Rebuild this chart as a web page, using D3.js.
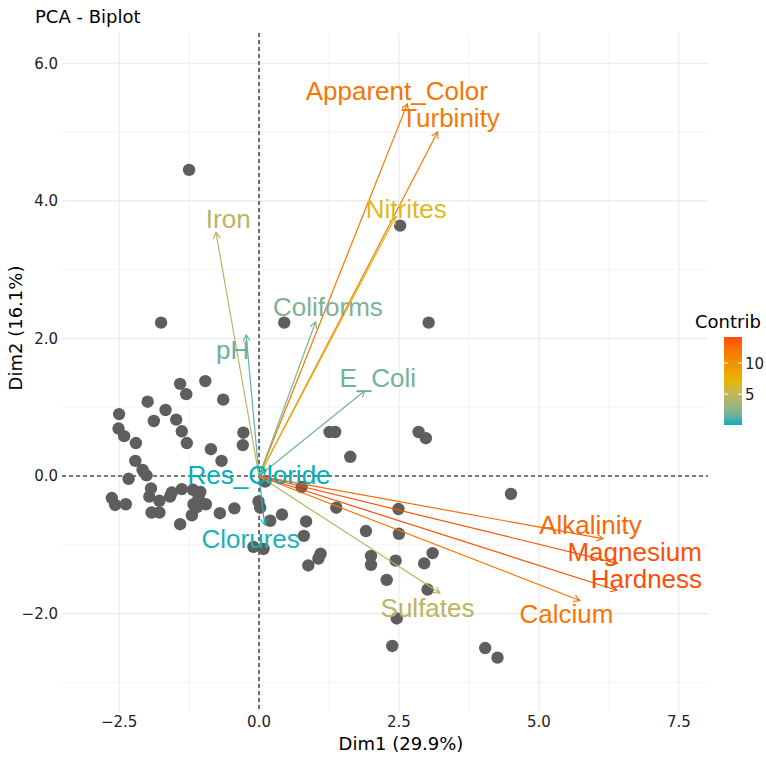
<!DOCTYPE html>
<html>
<head>
<meta charset="utf-8">
<script src="https://cdn.jsdelivr.net/npm/d3@7"></script>
<style>
  body { margin: 0; background: #fff; }
  svg { display: block; }
</style>
</head>
<body>
<div id="chart"></div>
<script>
// Individuals (Dim1, Dim2)
const indDim1 = [-1.41, -0.96, -1.30, -1.99, -0.64, -2.50, -1.67, -1.48, -1.88, -2.51,
  -2.41, -1.38, -2.20, -1.29, -0.28, -0.29, -0.86, -0.67, -2.21, -2.08,
  -2.01, -2.33, -1.93, -2.63, -2.57, -2.38, -1.96, -1.78, -1.59, -1.56,
  -1.38, -1.18, -1.05, -1.08, -1.17, -0.95, -1.11, -1.92, -1.78, -1.20,
  -1.41, -0.70, -0.44, 0.11, -0.01, 0.02, 0.20, 0.41, -0.10, 0.08,
  0.76, 0.84, 0.80, 1.38, 1.26, 1.36, 1.63, 1.10, 1.06, 0.88,
  1.91, 2.00, 2.00, 2.28, 2.49, 2.50, 2.44, 2.46, 2.38, 2.85,
  2.98, 3.10, 2.95, 3.01, 4.50, 4.04, 4.26, -1.25, -1.75, 0.45,
  2.52, 3.03];
const indDim2 = [1.34, 1.38, 1.19, 1.08, 1.11, 0.90, 0.96, 0.82, 0.80, 0.69,
  0.58, 0.65, 0.48, 0.48, 0.63, 0.45, 0.39, 0.22, 0.22, 0.09,
  0.01, -0.04, -0.18, -0.32, -0.42, -0.41, -0.30, -0.36, -0.30, -0.24,
  -0.19, -0.20, -0.23, -0.32, -0.41, -0.41, -0.45, -0.53, -0.53, -0.57,
  -0.70, -0.54, -0.47, -0.08, -0.37, -0.46, -0.65, -0.56, -1.03, -1.06,
  -0.16, -0.66, -0.87, -0.46, 0.64, 0.64, 0.28, -1.13, -1.20, -1.30,
  -0.80, -1.16, -1.29, -1.51, -0.48, -0.84, -1.23, -2.07, -2.47, 0.64,
  0.55, -1.12, -1.27, -1.65, -0.26, -2.50, -2.64, 4.45, 2.23, 2.23,
  3.64, 2.23];

// Variables
const variables = ["Apparent_Color", "Turbinity", "Nitrites", "Iron", "Coliforms", "pH", "E_Coli",
  "Res_Cloride", "Clorures", "Sulfates", "Alkalinity", "Magnesium", "Hardness", "Calcium"];
const varDim1 = [2.65, 3.19, 2.43, -0.77, 1.01, -0.23, 1.89, 0.12, 0.10, 3.23, 6.14, 6.40, 6.39, 5.73];
const varDim2 = [5.41, 5.00, 3.75, 3.54, 2.24, 2.05, 1.24, 0.08, -0.71, -1.70, -0.91, -1.27, -1.66, -1.81];
const varContrib = [12.1, 11.7, 6.8, 4.5, 2.1, 1.4, 1.7, 0.05, 0.2, 4.5, 12.7, 14.0, 14.2, 12.0];
// label positions (repelled), in Dim1/Dim2 units
const labelDim1 = [2.46, 3.42, 2.63, -0.55, 1.23, -0.47, 2.12, 0.00, -0.15, 3.01, 5.92, 6.71, 6.92, 5.49];
const labelDim2 = [5.60, 5.20, 3.88, 3.74, 2.46, 1.83, 1.43, 0.01, -0.91, -1.91, -0.71, -1.11, -1.50, -2.01];

// Axes
const xTicks = [-2.5, 0, 2.5, 5, 7.5];
const yTicks = [-2, 0, 2, 4, 6];
const xMinor = [-1.25, 1.25, 3.75, 6.25];
const yMinor = [-3, -1, 1, 3, 5];
const legendTicks = [5, 10];
const gradientCols = ["#00AFBB", "#E7B800", "#FC4E07"];

const width = 766, height = 757;
const panel = { left: 62, right: 708, top: 33, bottom: 712 };

const svg = d3.select("#chart").append("svg")
  .attr("width", width)
  .attr("height", height);

const x = d3.scaleLinear().domain([-3.52, 8.02]).range([panel.left, panel.right]);
const y = d3.scaleLinear().domain([-3.43, 6.44]).range([panel.bottom, panel.top]);

const cMin = d3.min(varContrib), cMax = d3.max(varContrib);
const color = d3.scaleLinear()
  .domain([cMin, (cMin + cMax) / 2, cMax])
  .range(gradientCols)
  .interpolate(d3.interpolateLab);

// grid: minor then major
const grid = svg.append("g");
grid.selectAll(".minx").data(xMinor).enter().append("line")
  .attr("x1", d => x(d)).attr("x2", d => x(d))
  .attr("y1", panel.top).attr("y2", panel.bottom)
  .attr("stroke", "#ededed").attr("stroke-width", 0.6);
grid.selectAll(".miny").data(yMinor).enter().append("line")
  .attr("y1", d => y(d)).attr("y2", d => y(d))
  .attr("x1", panel.left).attr("x2", panel.right)
  .attr("stroke", "#ededed").attr("stroke-width", 0.6);
grid.selectAll(".majx").data(xTicks).enter().append("line")
  .attr("x1", d => x(d)).attr("x2", d => x(d))
  .attr("y1", panel.top).attr("y2", panel.bottom)
  .attr("stroke", "#e9e9e9").attr("stroke-width", 1.1);
grid.selectAll(".majy").data(yTicks).enter().append("line")
  .attr("y1", d => y(d)).attr("y2", d => y(d))
  .attr("x1", panel.left).attr("x2", panel.right)
  .attr("stroke", "#e9e9e9").attr("stroke-width", 1.1);

// tick labels
svg.append("g").selectAll("text").data(xTicks).enter().append("text")
  .attr("x", d => x(d)).attr("y", 727)
  .attr("text-anchor", "middle")
  .style("font", "15px 'DejaVu Sans'").attr("fill", "#222")
  .text(d => d3.format(".1f")(d));
svg.append("g").selectAll("text").data(yTicks).enter().append("text")
  .attr("x", 58).attr("y", d => y(d) + 5.4)
  .attr("text-anchor", "end")
  .style("font", "15px 'DejaVu Sans'").attr("fill", "#222")
  .text(d => d3.format(".1f")(d));

// dashed reference lines
svg.append("line")
  .attr("x1", x(0)).attr("x2", x(0)).attr("y1", panel.top).attr("y2", panel.bottom)
  .attr("stroke", "#000").attr("stroke-width", 1.1).attr("stroke-dasharray", "4,3");
svg.append("line")
  .attr("y1", y(0)).attr("y2", y(0)).attr("x1", panel.left).attr("x2", panel.right)
  .attr("stroke", "#000").attr("stroke-width", 1.1).attr("stroke-dasharray", "4,3");

// individuals
svg.append("g").selectAll("circle").data(indDim1).enter().append("circle")
  .attr("cx", d => x(d))
  .attr("cy", (d, i) => y(indDim2[i]))
  .attr("r", 6.2)
  .attr("fill", "#5e5e5e");

// variable arrows
const arrows = svg.append("g");
variables.forEach((v, i) => {
  const x0 = x(0), y0 = y(0), x1 = x(varDim1[i]), y1 = y(varDim2[i]);
  const col = color(varContrib[i]);
  const ang = Math.atan2(y1 - y0, x1 - x0);
  const hl = 7, ha = Math.PI / 6;
  arrows.append("line")
    .attr("x1", x0).attr("y1", y0).attr("x2", x1).attr("y2", y1)
    .attr("stroke", col).attr("stroke-width", 1.2);
  arrows.append("path")
    .attr("d", d3.line()([
      [x1 - hl * Math.cos(ang - ha), y1 - hl * Math.sin(ang - ha)],
      [x1, y1],
      [x1 - hl * Math.cos(ang + ha), y1 - hl * Math.sin(ang + ha)]
    ]))
    .attr("fill", "none").attr("stroke", col).attr("stroke-width", 1.2);
});

// variable labels
svg.append("g").selectAll("text").data(variables).enter().append("text")
  .attr("x", (d, i) => x(labelDim1[i]))
  .attr("y", (d, i) => y(labelDim2[i]))
  .attr("dy", "0.35em")
  .attr("text-anchor", "middle")
  .style("font", "26px 'Liberation Sans', Arial, sans-serif")
  .attr("fill", (d, i) => color(varContrib[i]))
  .text(d => d);

// titles
svg.append("text").attr("x", 35).attr("y", 23)
  .style("font", "18px 'DejaVu Sans'").attr("fill", "#000")
  .text("PCA - Biplot");
svg.append("text").attr("x", 401).attr("y", 749.5)
  .attr("text-anchor", "middle")
  .style("font", "18px 'DejaVu Sans'").attr("fill", "#000")
  .text("Dim1 (29.9%)");
svg.append("text")
  .attr("transform", "translate(21.5,328) rotate(-90)")
  .attr("text-anchor", "middle")
  .style("font", "18px 'DejaVu Sans'").attr("fill", "#000")
  .text("Dim2 (16.1%)");

// legend
const legend = svg.append("g");
const lg = svg.append("defs").append("linearGradient")
  .attr("id", "contribGrad").attr("x1", 0).attr("x2", 0).attr("y1", 1).attr("y2", 0);
d3.range(0, 1.0001, 0.1).forEach(t => {
  lg.append("stop").attr("offset", t)
    .attr("stop-color", color(cMin + t * (cMax - cMin)));
});
const ly = d3.scaleLinear().domain([cMin, cMax]).range([425, 337]);
legend.append("text").attr("x", 695).attr("y", 328)
  .style("font", "18px 'DejaVu Sans'").attr("fill", "#000")
  .text("Contrib");
legend.append("rect")
  .attr("x", 724).attr("y", ly(cMax))
  .attr("width", 18).attr("height", ly(cMin) - ly(cMax))
  .attr("fill", "url(#contribGrad)");
legendTicks.forEach(t => {
  legend.append("line").attr("x1", 724).attr("x2", 728).attr("y1", ly(t)).attr("y2", ly(t))
    .attr("stroke", "#fff").attr("stroke-width", 1);
  legend.append("line").attr("x1", 738).attr("x2", 742).attr("y1", ly(t)).attr("y2", ly(t))
    .attr("stroke", "#fff").attr("stroke-width", 1);
  legend.append("text").attr("x", 745).attr("y", ly(t) + 5.4)
    .style("font", "15px 'DejaVu Sans'").attr("fill", "#222")
    .text(t);
});
</script>
</body>
</html>
